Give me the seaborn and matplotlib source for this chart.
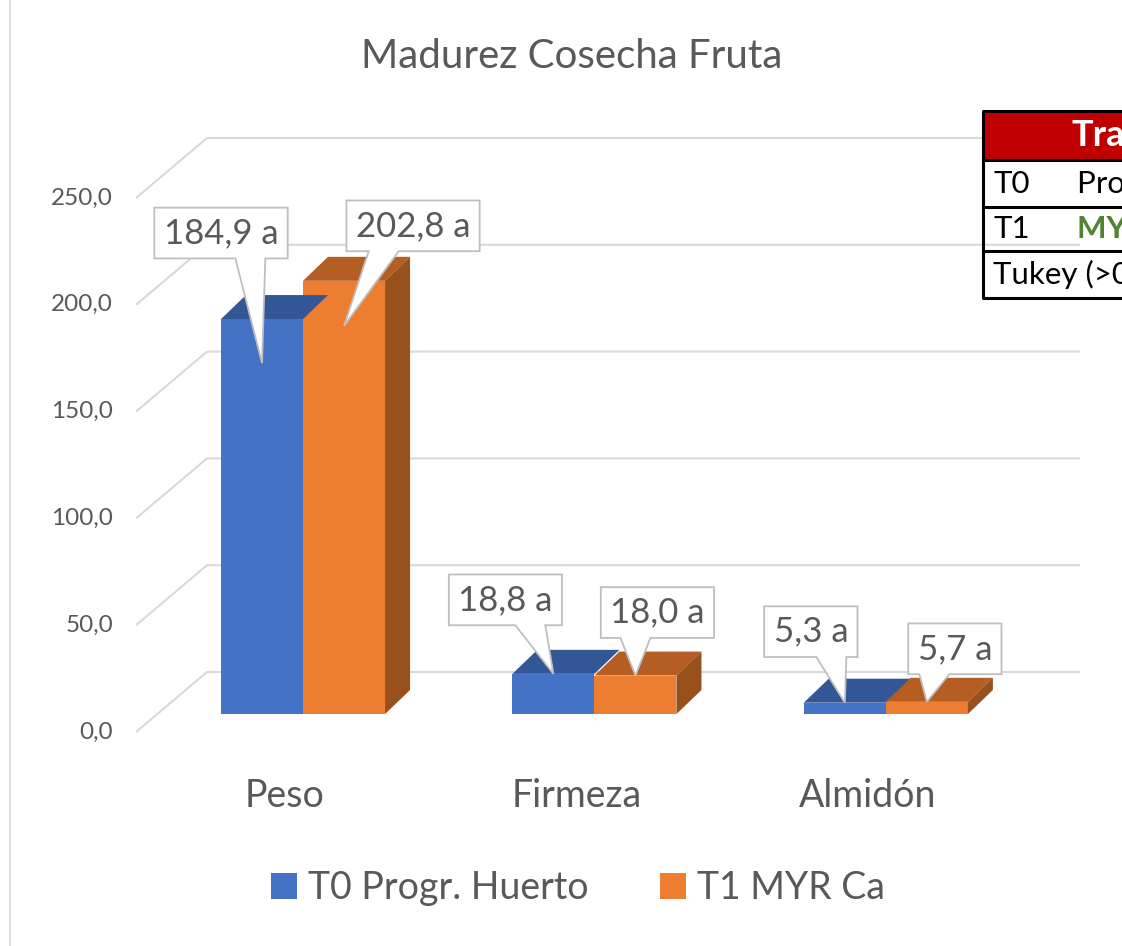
import numpy as np
import pandas as pd
import matplotlib
matplotlib.use("Agg")
import matplotlib.pyplot as plt
import matplotlib.transforms as mtransforms
from matplotlib.patches import Polygon, Rectangle
from matplotlib.lines import Line2D
import seaborn as sns

# data
categorias = ['Peso', 'Firmeza', 'Almidón']
tratamientos = ['T0 Progr. Huerto', 'T1 MYR Ca']
t0_valores = [184.9, 18.8, 5.3]
t1_valores = [202.8, 18.0, 5.7]
t0_letras = ['a', 'a', 'a']
t1_letras = ['a', 'a', 'a']
yticks = [0, 50, 100, 150, 200, 250]

tabla_cod = ['T0', 'T1']
tabla_trat = ['Progr. Huerto', 'MYR Ca']
tabla_titulo = 'Tratamientos'
tabla_pie = 'Tukey (>0,05)'

# layout (pixels)
depth = (25, 24)
label_tip_drop = [[44, 0, 0], [45, 0, 0]]
label_box_off = [[(-41, 130), (-48, 74), (-34, 71)],
                 [(69, 100), (22, 63), (28, 53)]]

azul = '#4472C4'
naranja = '#ED7D31'
azul_top = '#335796'
naranja_top = '#B45E23'
naranja_side = '#98501D'
gris_txt = '#595959'
gris_grid = '#D9D9D9'

sns.set_theme(style='white')
plt.rcParams['font.family'] = ['Lato', 'DejaVu Sans']

W, H = 1122, 946
fig = plt.figure(figsize=(W / 100, H / 100), dpi=100)
fig.patch.set_facecolor('white')

px_per_unit = 2.136
ylim = (0, 300)
ax = fig.add_axes([134 / W, (H - 714) / H, 950 / W, (ylim[1] * px_per_unit) / H])

df = pd.DataFrame({
    'Parametro': categorias * 2,
    'Valor': t0_valores + t1_valores,
    'Tratamiento': [tratamientos[0]] * 3 + [tratamientos[1]] * 3,
})
sns.barplot(data=df, x='Parametro', y='Valor', hue='Tratamiento',
            palette=[azul, naranja], saturation=1, width=0.563,
            linewidth=0, ax=ax, zorder=2)
ax.set_xlim(-0.58, 2.68)
ax.set_ylim(*ylim)
ax.set_xlabel('')
ax.set_ylabel('')
for s in ax.spines.values():
    s.set_visible(False)
ax.set_facecolor('none')


def shift(x, y, dx=0, dy=0):
    d = ax.transData.transform((x, y)) + np.array([dx, dy])
    return ax.transData.inverted().transform(d)


# back wall gridlines with the diagonal of the side wall
x_left = ax.get_xlim()[0]
for v in yticks:
    p0 = shift(x_left, v, 2, -18)
    p1 = shift(x_left, v, 73, 42)
    p2 = shift(x_left, v, 946, 42)
    ax.plot([p0[0], p1[0], p2[0]], [p0[1], p1[1], p2[1]], color=gris_grid,
            lw=1.5, zorder=0, clip_on=False, solid_capstyle='butt')

ax.set_yticks(yticks, [f'{v:.1f}'.replace('.', ',') for v in yticks])
ax.tick_params(axis='y', length=0, pad=15, labelsize=17.5, labelcolor=gris_txt)
off_y = mtransforms.ScaledTranslation(0, -16 / 100, fig.dpi_scale_trans)
for lab in ax.get_yticklabels():
    lab.set_transform(lab.get_transform() + off_y)

ax.tick_params(axis='x', length=0, pad=46, labelsize=27, labelcolor=gris_txt)
off_x = mtransforms.ScaledTranslation(-18 / 100, 0, fig.dpi_scale_trans)
for lab in ax.get_xticklabels():
    lab.set_transform(lab.get_transform() + off_x)

# 3d faces for the bars
tops = [azul_top, naranja_top]
for i, cont in enumerate(ax.containers):
    for r in cont.patches:
        x0 = r.get_x()
        x1 = x0 + r.get_width()
        h = r.get_height()
        top = [(x0, h), (x1, h), tuple(shift(x1, h, *depth)), tuple(shift(x0, h, *depth))]
        ax.add_patch(Polygon(top, closed=True, fc=tops[i], ec='none', zorder=2.5))
        if i == len(ax.containers) - 1:
            side = [(x1, 0), (x1, h), tuple(shift(x1, h, *depth)), tuple(shift(x1, 0, *depth))]
            ax.add_patch(Polygon(side, closed=True, fc=naranja_side, ec='none', zorder=2.5))

# callout labels: text first, then the box with its pointer around it
valores = [t0_valores, t1_valores]
letras = [t0_letras, t1_letras]
fs_lab = 25
callouts = []
for i, cont in enumerate(ax.containers):
    for j, r in enumerate(cont.patches):
        xc = r.get_x() + r.get_width() / 2
        tip = shift(xc, valores[i][j], 0, -label_tip_drop[i][j])
        txt = f'{valores[i][j]:.1f}'.replace('.', ',') + f' {letras[i][j]}'
        t = ax.annotate(txt, xy=tip, xytext=label_box_off[i][j], textcoords='offset pixels',
                        ha='center', va='center', fontsize=fs_lab, color=gris_txt, zorder=6,
                        annotation_clip=False)
        callouts.append((t, tip))

renderer = fig.canvas.get_renderer()
pad = 0.27 * fs_lab * 100 / 72
for t, tip in callouts:
    ext = t.get_window_extent(renderer)
    bx0, bx1 = ext.x0 - pad, ext.x1 + pad
    by0, by1 = ext.y0 - pad, ext.y1 + pad
    tx, ty = ax.transData.transform(tip)
    w = bx1 - bx0
    bc = min(max(tx, bx0 + 0.28 * w), bx1 - 0.28 * w)
    pts = [(bx0, by0), (bc - 15, by0), (tx, ty), (bc + 15, by0), (bx1, by0),
           (bx1, by1), (bx0, by1)]
    pts = ax.transData.inverted().transform(pts)
    ax.add_patch(Polygon(pts, closed=True, fc='white', ec='#BFBFBF', lw=1.3,
                         zorder=5, clip_on=False, joinstyle='miter'))

sns.move_legend(ax, 'center', bbox_to_anchor=(578 / W, 1 - 888 / H),
                bbox_transform=fig.transFigure, ncol=2, frameon=False, title=None,
                fontsize=27, handlelength=0.7, handleheight=0.7,
                handletextpad=0.3, columnspacing=1.9, labelcolor=gris_txt)

fig.text(572 / W, 1 - 57 / H, 'Madurez Cosecha Fruta', ha='center', va='center',
         fontsize=29, color=gris_txt)

# chart area left border
fig.add_artist(Line2D([9.5 / W, 9.5 / W], [0, 1], color=gris_grid, lw=1.2))

# treatment table, cut by the right edge of the image
tab_w = 420
ax_t = fig.add_axes([983 / W, (H - 298) / H, tab_w / W, 187 / H])
ax_t.set_xlim(0, tab_w)
ax_t.set_ylim(187, 0)
ax_t.axis('off')
ax_t.add_patch(Rectangle((0, 0), tab_w, 49, fc='#C00000', ec='none'))
for yb in [0, 49, 96, 140, 187]:
    ax_t.plot([0, tab_w], [yb, yb], color='black', lw=2.2, clip_on=False,
              solid_capstyle='butt')
ax_t.plot([0, 0], [0, 187], color='black', lw=2.2, clip_on=False)
ax_t.text(89, 25, tabla_titulo, ha='left', va='center', fontsize=26,
          fontweight='bold', color='white')
ax_t.text(10, 73, tabla_cod[0], ha='left', va='center', fontsize=22.5, color='black')
ax_t.text(94, 73, tabla_trat[0], ha='left', va='center', fontsize=22.5, color='black')
ax_t.text(10, 118, tabla_cod[1], ha='left', va='center', fontsize=22.5, color='black')
ax_t.text(94, 118, tabla_trat[1], ha='left', va='center', fontsize=22.5,
          fontweight='bold', color='#548235')
ax_t.text(10, 163, tabla_pie, ha='left', va='center', fontsize=22.5, color='black')

fig.savefig('out.png', dpi=100)
